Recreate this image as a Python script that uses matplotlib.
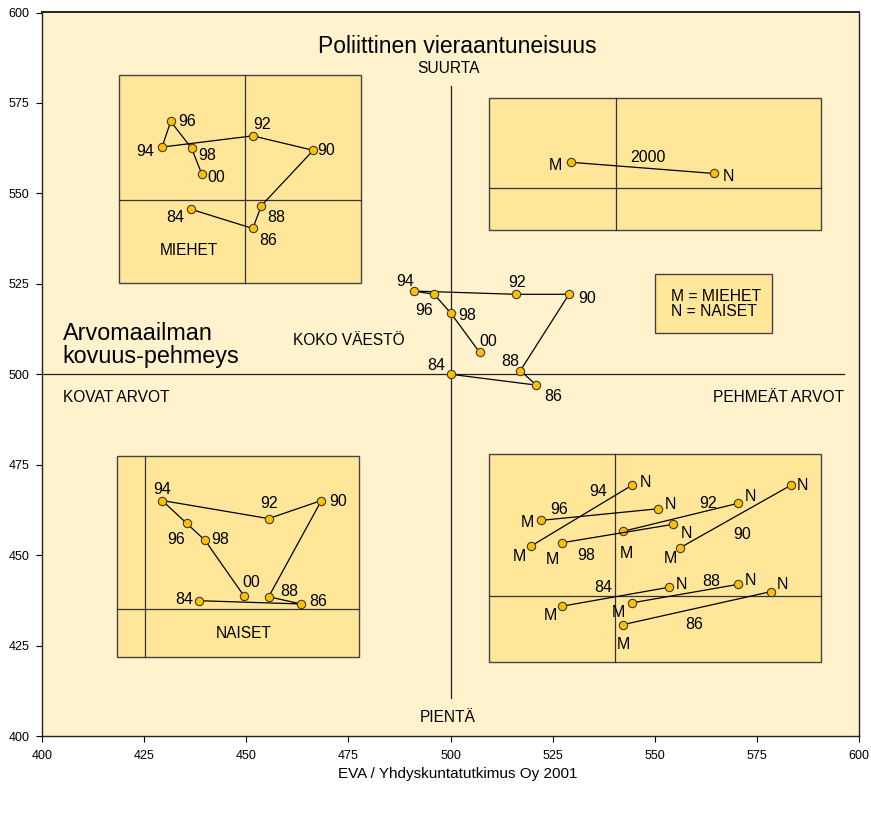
import matplotlib
matplotlib.use('Agg')
import matplotlib.pyplot as plt
from matplotlib.patches import Rectangle

plt.rcParams['font.family'] = ['Liberation Sans', 'DejaVu Sans']

# ---------------- data ----------------
years = ['84', '86', '88', '90', '92', '94', '96', '98', '00']

# KOKO VÄESTÖ (main series)
koko_x = [500.0, 521.0, 517.1, 529.0, 516.0, 491.1, 496.0, 500.0, 507.1]
koko_y = [500.0, 497.0, 501.0, 522.1, 522.1, 523.0, 522.1, 517.0, 506.1]

# MIEHET inset
miehet_x = [436.5, 451.6, 453.7, 466.4, 451.6, 429.4, 431.5, 436.6, 439.1]
miehet_y = [545.6, 540.3, 546.6, 561.9, 565.9, 562.8, 569.9, 562.5, 555.4]

# NAISET inset
naiset_x = [438.4, 463.4, 455.5, 468.4, 455.5, 429.4, 435.4, 439.9, 449.4]
naiset_y = [437.4, 436.5, 438.5, 465.1, 460.1, 465.1, 458.8, 454.1, 438.8]

# 2000 inset (M, N)
y2000_x = [529.4, 564.5]
y2000_y = [558.6, 555.5]
y2000_lbl = ['M', 'N']

# M/N pair inset
pair_years = ['84', '86', '88', '90', '92', '94', '96', '98']
pair_m_x = [527.4, 542.3, 544.4, 556.3, 542.3, 519.7, 522.1, 527.2]
pair_m_y = [435.9, 430.8, 436.8, 452.1, 456.6, 452.5, 459.6, 453.4]
pair_n_x = [553.4, 578.4, 570.3, 583.3, 570.3, 544.4, 550.7, 554.4]
pair_n_y = [441.1, 439.9, 441.9, 469.3, 464.3, 469.3, 462.8, 458.5]

x_ticks = [400, 425, 450, 475, 500, 525, 550, 575, 600]
y_ticks = [400, 425, 450, 475, 500, 525, 550, 575, 600]

# ---------------- layout / style ----------------
BG = '#FFF2CC'
BOX = '#FFE699'
MK = '#FFC000'
EDGE = '#3a3a3a'
FS_NUM = 11.5
FS_CAP = 11.2

koko_off = [(-14.6, 9), (17, -11), (-10.3, 9), (17.7, -4), (1, 12),
            (-9, 9.3), (-10, -16.4), (17, -3), (8.3, 10.6)]
miehet_off = [(-15.6, -8.4), (15.3, -12), (14.7, -12), (13, 0), (9, 11.7),
              (-16.6, -4.3), (16.3, 0), (16, -7.7), (15, -4)]
naiset_off = [(-14.4, 1.6), (17, 2.4), (20.3, 5.7), (16.4, -1.4), (0, 15),
              (0, 11), (-10.7, -16.3), (15, 0.7), (7.3, 13)]
y2000_off = [(-14.7, -3.7), (14.3, -2.7)]
m_off = [(-11.6, -9.7), (0, -20), (-13, -9.3), (-10, -10.6), (2.7, -22),
         (-11.7, -10), (-13, -2.4), (-9.4, -16.3)]
n_off = [(12.6, 3), (12, 6.7), (13, 3.6), (12, 0), (12.6, 6.6),
         (13.3, 2.6), (12.6, 4.4), (14, -9)]
pair_lbl_pos = [(537.4, 441.1), (559.7, 430.7), (563.9, 442.8), (571.3, 455.8),
                (563.1, 464.3), (536.2, 467.5), (526.6, 462.7), (533.3, 449.8)]

# boxes: (x0, x1, y0, y1, vline, hline)
boxes = [
    (418.8, 478.2, 525.1, 582.7, 449.8, 548.2),   # MIEHET
    (509.5, 590.7, 540.0, 576.5, 540.6, 551.5),   # 2000
    (418.3, 477.7, 421.9, 477.5, 425.3, 435.0),   # NAISET
    (509.35, 590.6, 420.5, 478.0, 540.3, 438.7),  # pairs
]
legend_box = (550.1, 578.6, 511.3, 527.6)

fig = plt.figure(figsize=(8.71, 8.13), dpi=100)
fig.patch.set_facecolor('white')
ax = fig.add_axes([42 / 871, 1 - 736 / 813, 817 / 871, 723.5 / 813])
ax.set_facecolor(BG)
ax.set_xlim(400, 600)
ax.set_ylim(400, 600)
ax.set_xticks(x_ticks)
ax.set_yticks(y_ticks)
ax.tick_params(labelsize=9, length=4, width=0.8, direction='out')
ax.tick_params(axis='x', pad=6)
ax.tick_params(axis='y', pad=5)
for sp in ax.spines.values():
    sp.set_linewidth(1.0)
    sp.set_color('#222222')
ax.spines['top'].set_linewidth(1.4)

# inset boxes
for (x0, x1, y0, y1, vl, hl) in boxes:
    ax.add_patch(Rectangle((x0, y0), x1 - x0, y1 - y0, facecolor=BOX,
                           edgecolor='#444444', linewidth=1.0, zorder=1))
    ax.plot([vl, vl], [y0, y1], color='#333333', lw=0.9, zorder=2)
    ax.plot([x0, x1], [hl, hl], color='#333333', lw=0.9, zorder=2)

lx0, lx1, ly0, ly1 = legend_box
ax.add_patch(Rectangle((lx0, ly0), lx1 - lx0, ly1 - ly0, facecolor=BOX,
                       edgecolor='#444444', linewidth=1.0, zorder=1))
ax.text(lx0 + 4.0, (ly0 + ly1) / 2, 'M = MIEHET\nN = NAISET', fontsize=11.3,
        ha='left', va='center', linespacing=1.0, zorder=3)

# main cross lines
ax.plot([500, 500], [410.5, 579.6], color='#222222', lw=0.9, zorder=2)
ax.plot([400, 596.3], [500, 500], color='#222222', lw=0.9, zorder=2)

mk = dict(marker='o', markersize=6, markerfacecolor=MK, markeredgecolor=EDGE,
          markeredgewidth=0.8, color='black', lw=0.9, zorder=4)


def draw_series(xs, ys, labels, offs):
    ax.plot(xs, ys, **mk)
    for x, y, lab, (dx, dy) in zip(xs, ys, labels, offs):
        ax.annotate(lab, (x, y), xytext=(dx, dy), textcoords='offset pixels',
                    ha='center', va='center', fontsize=FS_NUM, zorder=5)


draw_series(koko_x, koko_y, years, koko_off)
draw_series(miehet_x, miehet_y, years, miehet_off)
draw_series(naiset_x, naiset_y, years, naiset_off)
draw_series(y2000_x, y2000_y, y2000_lbl, y2000_off)
ax.text(548.3, 559.9, '2000', fontsize=FS_NUM, ha='center', va='center', zorder=5)

for i, yr in enumerate(pair_years):
    ax.plot([pair_m_x[i], pair_n_x[i]], [pair_m_y[i], pair_n_y[i]], **mk)
    ax.annotate('M', (pair_m_x[i], pair_m_y[i]), xytext=m_off[i],
                textcoords='offset pixels', ha='center', va='center',
                fontsize=FS_NUM, zorder=5)
    ax.annotate('N', (pair_n_x[i], pair_n_y[i]), xytext=n_off[i],
                textcoords='offset pixels', ha='center', va='center',
                fontsize=FS_NUM, zorder=5)
    px, py = pair_lbl_pos[i]
    ax.text(px, py, yr, fontsize=FS_NUM, ha='center', va='center', zorder=5)

# texts
ax.text(501.6, 590.6, 'Poliittinen vieraantuneisuus', fontsize=16.5,
        ha='center', va='center')
ax.text(499.4, 584.4, 'SUURTA', fontsize=FS_CAP, ha='center', va='center')
ax.text(499.4, 405.0, 'PIENTÄ', fontsize=FS_CAP, ha='center', va='center')
ax.text(405.1, 508.0, 'Arvomaailman\nkovuus-pehmeys', fontsize=16.8,
        ha='left', va='center', linespacing=1.0)
ax.text(475.2, 509.2, 'KOKO VÄESTÖ', fontsize=FS_CAP, ha='center', va='center')
ax.text(405.1, 493.7, 'KOVAT ARVOT', fontsize=FS_CAP, ha='left', va='center')
ax.text(596.3, 493.7, 'PEHMEÄT ARVOT', fontsize=FS_CAP, ha='right', va='center')
ax.text(436.0, 534.3, 'MIEHET', fontsize=FS_CAP, ha='center', va='center')
ax.text(449.4, 428.2, 'NAISET', fontsize=FS_CAP, ha='center', va='center')

fig.text(458 / 871, 1 - 774 / 813, 'EVA / Yhdyskuntatutkimus Oy 2001',
         fontsize=11, ha='center', va='center')

fig.savefig('out.png', dpi=100, facecolor='white')
